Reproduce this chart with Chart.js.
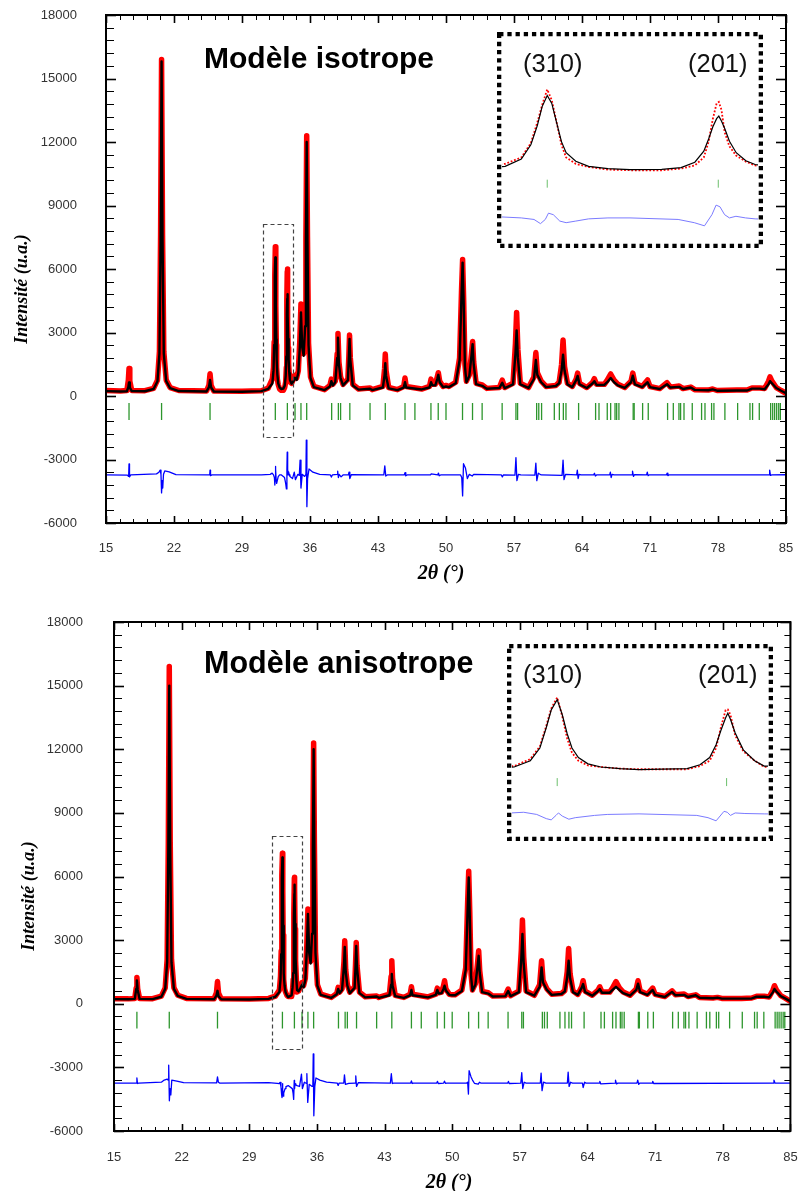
<!DOCTYPE html>
<html><head><meta charset="utf-8">
<script src="https://cdn.jsdelivr.net/npm/chart.js@4.4.1/dist/chart.umd.min.js"></script>
<style>
html,body{margin:0;padding:0;background:#fff;}
#wrap{position:relative;width:800px;height:1191px;overflow:hidden;background:#fff;}
canvas{position:absolute;display:block;}
</style></head><body>
<div id="wrap">
<canvas id="c1" width="800" height="595" style="left:0;top:0;width:800px;height:595px"></canvas>
<canvas id="c2" width="800" height="596" style="left:0;top:595px;width:800px;height:596px"></canvas>
<canvas id="i1" width="266" height="216" style="left:497px;top:32px;width:266px;height:216px"></canvas>
<canvas id="i2" width="266" height="197" style="left:507px;top:644px;width:266px;height:197px"></canvas>
</div>
<script>
// ---------- axis tick labels ----------
const xTickLabels = [15, 22, 29, 36, 43, 50, 57, 64, 71, 78, 85];
const yTickLabels = [-6000, -3000, 0, 3000, 6000, 9000, 12000, 15000, 18000];

// ---------- Bragg reflection positions (2theta) ----------
const braggPositions = [17.37, 20.72, 25.71, 32.43, 33.67, 34.46, 35.07, 35.66, 38.23, 38.92, 39.15, 40.10, 42.18, 43.75,
  45.78, 46.80, 48.45, 49.20, 50.00, 51.70, 52.73, 53.72, 55.78, 57.20, 57.37, 59.33, 59.55, 59.84, 61.15, 61.67, 62.08, 62.35,
  63.65, 65.40, 65.75, 66.60, 66.95, 67.40, 67.57, 67.80, 69.27, 69.37, 70.24, 70.82, 72.81, 73.40, 73.98, 74.15, 74.50,
  75.35, 76.31, 76.66, 77.34, 77.58, 78.71, 80.02, 81.29, 81.56, 82.25, 83.42, 83.63, 83.83, 84.04, 84.25, 84.42];

// ---------- Modèle isotrope : observed / calculated ----------
const isoTheta = [
  15.00,16.50,17.15,17.30,17.37,17.45,17.65,
  19.00,19.90,20.30,20.50,20.62,20.72,20.82,20.95,21.20,21.60,22.50,
  25.35,25.60,25.71,25.82,26.10,29.00,31.00,31.70,
  32.125,32.242,32.311,32.358,32.393,32.430,32.463,32.498,32.533,32.567,32.637,32.730,32.870,33.030,
  33.260,33.400,33.500,33.565,33.600,33.630,33.658,33.674,33.693,33.716,33.751,33.800,33.870,33.937,
  34.10,34.30,34.46,34.62,34.80,34.95,35.07,35.20,35.35,35.50,35.58,35.66,35.74,35.85,36.05,36.40,37.50,
  38.05,38.20,38.35,38.60,38.80,38.88,38.98,39.15,39.40,39.90,40.00,40.07,40.15,40.40,41.00,
  42.18,42.40,43.50,43.68,43.75,43.83,44.10,45.00,45.65,45.78,45.90,47.50,
  48.30,48.46,48.60,48.90,49.10,49.21,49.35,49.70,50.00,50.30,51.00,
  51.40,51.60,51.71,51.82,51.95,52.10,52.40,52.62,52.74,52.85,53.10,53.73,54.20,
  55.50,55.79,56.05,56.90,57.15,57.27,57.40,57.65,58.50,
  59.05,59.25,59.40,59.80,60.30,61.30,61.65,61.90,62.05,62.20,62.50,63.00,
  63.40,63.55,63.75,64.50,65.10,65.27,65.50,66.30,66.60,66.95,67.30,67.70,68.40,
  69.05,69.23,69.45,70.20,70.75,71.00,72.00,72.75,73.10,74.00,74.40,75.20,75.60,
  77.00,77.45,77.90,79.95,81.00,81.50,82.30,82.80,83.20,83.35,83.55,84.00,84.50,85.00];
const isoObs = [
  260,240,260,750,1300,700,260,
  250,360,750,2100,7600,15900,7600,2100,750,400,260,
  240,520,1050,500,240,220,250,370,
  810,1346,2546,4274,5746,7050,6146,4274,2410,1346,810,546,330,274,
  274,410,674,1346,2674,4546,5874,6000,5346,3474,2274,1500,1000,674,
  600,800,980,850,1200,2600,4350,2500,2000,3500,7500,12300,7500,2500,900,450,300,
  500,800,550,700,2000,2950,1600,900,550,800,1900,2880,1800,550,330,
  380,300,450,1300,1980,1200,400,300,450,850,450,330,
  450,800,550,550,900,1100,700,450,500,450,650,
  1800,5000,6450,4500,1500,700,1000,2000,2580,1600,600,520,360,
  400,750,400,600,2500,3950,2200,600,400,
  900,2050,1100,700,450,500,650,1500,2650,1400,600,450,
  800,1080,600,400,650,820,550,550,750,1040,750,550,400,
  700,1080,600,450,760,450,350,630,420,470,350,420,300,
  280,330,260,280,280,380,380,350,700,900,700,400,260,130];
const isoCalc = [
  230,215,225,420,640,400,230,
  225,330,700,2000,7300,15800,7400,2000,700,370,235,
  215,420,760,400,215,200,230,340,
  594,1210,2410,4010,5610,6546,5874,4274,2674,1746,1026,594,410,330,
  354,490,946,1874,2900,3900,4600,4810,4400,3800,2700,1746,1074,754,
  580,700,860,760,1100,2300,3950,2300,1900,3300,7200,12000,7300,2400,850,420,280,
  450,700,500,650,1800,2750,1500,850,500,750,1800,2700,1700,500,300,
  340,280,400,1000,1550,950,360,280,400,650,400,310,
  400,650,500,500,800,1000,650,420,450,420,600,
  1700,4800,6300,4400,1400,650,950,1900,2450,1500,560,480,340,
  380,620,370,550,2000,3100,1800,550,380,
  800,1700,1000,650,420,470,600,1200,1950,1200,550,420,
  750,950,550,380,600,700,520,520,650,850,650,500,380,
  650,960,550,420,650,420,330,560,400,430,330,400,290,
  270,310,250,260,260,350,350,320,550,700,600,380,250,130];
// difference curve (offset as drawn)
const isoDiffTheta = [
  15.00,17.20,17.33,17.37,17.42,17.55,20.20,20.45,20.58,20.66,20.72,20.78,20.84,20.92,21.05,21.50,22.20,25.55,25.68,25.71,25.76,25.90,31.00,31.90,
  32.102,32.242,32.334,32.381,32.416,32.439,32.474,32.521,32.567,32.637,32.730,32.870,33.030,33.379,33.496,33.570,33.624,33.654,33.682,33.716,33.751,33.798,33.868,33.937,
  34.20,34.38,34.50,34.75,34.90,34.98,35.07,35.20,35.45,35.58,35.62,35.68,35.75,35.90,36.30,37.00,
  38.10,38.20,38.30,38.80,38.85,38.92,39.00,39.20,39.40,39.95,40.02,40.10,40.25,
  43.60,43.70,43.80,43.95,45.70,45.78,45.86,46.00,48.40,48.48,49.15,49.22,49.30,49.45,
  51.50,51.62,51.71,51.80,52.00,52.20,52.40,52.70,52.85,55.70,55.80,55.90,
  57.10,57.20,57.30,57.45,57.70,59.15,59.25,59.35,59.50,59.80,61.95,62.05,62.15,62.30,
  63.45,63.52,63.60,63.70,63.90,65.20,65.28,65.38,65.50,66.85,66.92,67.00,67.10,67.30,
  69.15,69.20,69.30,69.40,70.65,70.72,70.80,70.90,72.70,72.76,72.84,72.95,83.25,83.32,83.40,83.55,85.00];
const isoDiff = [
  -3730,-3740,-3800,-3210,-3820,-3730,-3680,-3600,-3500,-3700,-4580,-4000,-4350,-3700,-3540,-3580,-3710,-3730,-3720,-3500,-3760,-3730,-3730,-3700,
  -3646,-3726,-3854,-4206,-3854,-3326,-3454,-3990,-4126,-3990,-3806,-3726,-3726,-3854,-4126,-4390,-3454,-2654,-2790,-3454,-3726,-3590,-3726,-3806,
  -3900,-3600,-3950,-3700,-3750,-3030,-4350,-3700,-3800,-3700,-2080,-5230,-3900,-3450,-3600,-3700,
  -3730,-3830,-3730,-3700,-3550,-3850,-3700,-3820,-3730,-3730,-3600,-3900,-3720,
  -3730,-3300,-3780,-3730,-3730,-3620,-3770,-3730,-3730,-3680,-3730,-3640,-3770,-3730,
  -3730,-3850,-4720,-3200,-3400,-3900,-3700,-3780,-3700,-3730,-3820,-3730,
  -3740,-2910,-4000,-3700,-3730,-3740,-3170,-4000,-3650,-3730,-3750,-3030,-3950,-3700,
  -3730,-3500,-3900,-3700,-3730,-3730,-3650,-3780,-3730,-3730,-3600,-3850,-3700,-3730,
  -3730,-3550,-3800,-3720,-3730,-3600,-3760,-3730,-3730,-3650,-3760,-3730,-3730,-3500,-3750,-3730,-3720];

// ---------- Modèle anisotrope : observed / calculated ----------
const anisoTheta = [
  15.00,16.50,17.15,17.30,17.37,17.45,17.65,
  19.00,19.90,20.30,20.50,20.62,20.72,20.82,20.95,21.20,21.60,22.50,
  25.35,25.60,25.71,25.82,26.10,29.00,31.00,31.70,
  32.115,32.233,32.303,32.350,32.386,32.430,32.467,32.503,32.538,32.585,32.655,32.749,32.890,
  33.027,33.381,33.475,33.546,33.593,33.628,33.663,33.679,33.698,33.733,33.792,33.875,33.945,
  34.10,34.30,34.46,34.62,34.80,34.95,35.07,35.20,35.35,35.50,35.58,35.66,35.74,35.85,36.05,36.40,37.50,
  38.05,38.20,38.35,38.60,38.80,38.88,38.98,39.15,39.40,39.90,40.00,40.07,40.15,40.40,41.00,
  42.18,42.40,43.50,43.68,43.75,43.83,44.10,45.00,45.65,45.78,45.90,47.50,
  48.30,48.46,48.60,48.90,49.10,49.21,49.35,49.70,50.00,50.30,51.00,
  51.40,51.60,51.71,51.82,51.95,52.10,52.40,52.62,52.74,52.85,53.10,53.73,54.20,
  55.50,55.79,56.05,56.90,57.15,57.27,57.40,57.65,58.50,
  59.05,59.25,59.40,59.80,60.30,61.30,61.65,61.90,62.05,62.20,62.50,63.00,
  63.40,63.55,63.75,64.50,65.10,65.27,65.50,66.30,66.60,66.95,67.30,67.70,68.40,
  69.05,69.23,69.45,70.20,70.75,71.00,72.00,72.75,73.10,74.00,74.40,75.20,75.60,
  77.00,77.45,77.90,79.95,81.00,81.50,82.30,82.80,83.20,83.35,83.55,84.00,84.50,85.00];
const anisoObs = [
  240,230,250,750,1240,700,250,
  240,360,750,2100,7600,15900,7600,2100,750,400,250,
  230,520,1050,500,230,220,250,360,
  643,1295,2483,4420,6055,7100,5313,3233,1893,1143,697,554,402,
  339,339,643,1143,2340,4269,5912,5965,5465,3527,2036,1143,554,
  600,800,1000,850,1200,2700,4470,2500,2000,3500,7500,12300,7500,2500,900,450,300,
  480,770,550,700,2000,2970,1600,900,550,800,1900,2890,1800,550,330,
  370,300,450,1300,2030,1200,400,300,450,800,450,320,
  450,740,520,550,850,1085,700,450,420,420,650,
  1700,4800,6250,4300,1400,650,950,1900,2500,1550,580,520,360,
  380,690,380,600,2500,3950,2200,600,400,
  900,2030,1100,700,450,480,620,1500,2610,1400,600,440,
  800,1085,600,400,650,800,550,550,750,1040,750,550,400,
  700,1085,600,450,740,450,340,610,420,460,340,420,290,
  270,300,250,250,270,350,350,320,650,850,650,380,250,110];
const anisoCalc = [
  220,210,230,700,1100,650,230,
  220,330,700,1950,7200,15000,7200,1950,700,370,230,
  210,380,610,350,210,200,230,330,
  554,1143,2340,4269,5912,6894,5465,3679,2340,1447,848,554,402,
  313,402,759,1447,2640,3990,5180,5608,5050,3760,2170,1143,643,
  580,750,900,780,1100,2500,4240,2400,1900,3300,7200,12000,7300,2400,850,420,280,
  450,700,500,650,1800,2680,1500,850,500,750,1800,2720,1700,500,300,
  340,280,400,900,1400,850,360,280,400,650,400,300,
  420,650,480,500,700,850,620,420,400,400,600,
  1600,4500,5950,4100,1300,610,900,1750,2260,1450,550,480,340,
  360,600,360,550,2100,3290,1900,550,380,
  800,1710,1000,650,420,460,580,1250,2030,1200,550,420,
  750,930,550,380,600,700,520,520,650,800,650,500,380,
  650,950,550,420,650,420,320,560,400,420,320,400,280,
  260,290,240,240,250,330,330,300,550,700,580,360,240,110];
const anisoDiffTheta = [
  15.00,17.30,17.37,17.43,17.55,19.90,20.20,20.50,20.60,20.66,20.73,20.80,20.88,20.98,21.50,22.20,25.62,25.71,25.80,25.95,31.00,31.90,
  32.092,32.185,32.280,32.350,32.386,32.421,32.439,32.467,32.515,32.562,32.703,32.796,33.029,33.452,33.534,33.593,33.651,33.675,33.698,33.733,33.804,33.945,
  34.20,34.40,34.50,34.70,34.88,34.96,35.05,35.20,35.50,35.58,35.62,35.68,35.78,35.90,36.30,37.00,
  38.10,38.20,38.30,38.78,38.85,38.95,39.30,39.95,40.02,40.10,40.28,
  43.60,43.70,43.80,43.95,45.70,45.78,45.86,46.00,48.40,48.48,48.56,49.12,49.20,49.30,49.45,
  51.50,51.60,51.68,51.75,51.95,52.10,52.30,52.70,52.82,52.95,55.75,55.82,55.90,
  57.10,57.20,57.30,57.45,57.65,59.12,59.20,59.30,59.45,59.70,61.92,62.00,62.10,62.25,62.45,
  63.48,63.55,63.70,63.85,65.20,65.28,65.38,66.85,66.90,67.00,67.15,
  69.12,69.20,69.30,69.40,70.68,70.75,70.85,83.22,83.30,83.40,85.00];
const anisoDiff = [
  -3740,-3740,-3500,-3760,-3740,-3700,-3600,-3550,-3600,-2890,-4575,-4000,-4300,-3600,-3650,-3720,-3730,-3450,-3700,-3740,-3720,-3750,
  -3769,-3706,-3911,-4304,-4420,-4001,-3769,-4063,-4358,-4215,-4001,-3911,-3858,-4001,-4215,-4510,-3617,-3706,-4001,-3769,-3822,-3858,
  -3900,-3320,-4000,-3700,-3750,-3290,-4650,-3800,-3900,-3750,-2370,-5280,-3900,-3500,-3600,-3700,
  -3740,-3850,-3740,-3740,-3350,-3800,-3750,-3740,-3400,-3900,-3720,
  -3740,-3300,-3760,-3740,-3740,-3640,-3760,-3740,-3740,-3660,-3760,-3740,-3650,-3750,-3740,
  -3740,-3700,-4260,-3160,-3450,-3600,-3750,-3790,-3700,-3740,-3740,-3660,-3760,
  -3740,-3250,-4000,-3700,-3740,-3740,-3270,-4100,-3700,-3740,-3740,-3220,-3900,-3700,-3740,
  -3740,-3950,-3700,-3740,-3740,-3660,-3780,-3740,-3600,-3780,-3740,
  -3740,-3600,-3800,-3740,-3740,-3660,-3760,-3740,-3600,-3740,-3740];

// ---------- helpers ----------
const pts = (xs, ys) => xs.map((x, i) => ({ x: x, y: ys[i] }));

function decorPlugin(o) {
  return {
    id: 'decor',
    afterDraw(chart) {
      const { ctx, chartArea: a, scales: { x, y } } = chart;
      ctx.save();
      ctx.strokeStyle = '#000';
      const line = (x1, y1, x2, y2) => { ctx.beginPath(); ctx.moveTo(x1, y1); ctx.lineTo(x2, y2); ctx.stroke(); };
      for (let k = 0; k <= 50; k++) {
        const px = Math.round(x.getPixelForValue(15 + k * 1.4)) + 0.5;
        const major = k % 5 === 0;
        ctx.lineWidth = major ? 1.6 : 1;
        line(px, a.bottom, px, a.bottom - (major ? 7 : 4));
        line(px, a.top, px, a.top + (major ? 8 : 5));
      }
      for (let k = 0; k <= 40; k++) {
        const py = Math.round(y.getPixelForValue(-6000 + k * 600)) + 0.5;
        const major = k % 5 === 0;
        ctx.lineWidth = major ? 1.6 : 1;
        line(a.left, py, a.left + (major ? 10 : 8), py);
        line(a.right, py, a.right - (major ? 10 : 6), py);
      }
      ctx.lineWidth = 2;
      ctx.strokeRect(a.left, a.top, a.right - a.left, a.bottom - a.top);
      const b = o.box;
      ctx.lineWidth = 1.2;
      ctx.strokeStyle = '#444';
      ctx.setLineDash([4, 3]);
      const bx1 = Math.round(x.getPixelForValue(b[0])) + 0.5, bx2 = Math.round(x.getPixelForValue(b[1])) + 0.5;
      const by1 = Math.round(y.getPixelForValue(b[3])) + 0.5, by2 = Math.round(y.getPixelForValue(b[2])) + 0.5;
      ctx.strokeRect(bx1, by1, bx2 - bx1, by2 - by1);
      ctx.setLineDash([]);
      ctx.fillStyle = '#000';
      ctx.font = 'bold ' + o.titleSize + 'px "Liberation Sans", Arial, sans-serif';
      ctx.textAlign = 'left';
      ctx.textBaseline = 'alphabetic';
      ctx.fillText(o.title, o.titlePos[0], o.titlePos[1]);
      ctx.font = 'italic bold 18px "Liberation Serif", "Times New Roman", serif';
      ctx.textAlign = 'center';
      ctx.textBaseline = 'middle';
      ctx.save();
      ctx.translate(o.yTitlePos[0], o.yTitlePos[1]);
      ctx.rotate(-Math.PI / 2);
      ctx.fillText('Intensité (u.a.)', 0, 0);
      ctx.restore();
      ctx.font = 'italic bold 20px "Liberation Serif", "Times New Roman", serif';
      ctx.fillText('2\u03B8 (°)', o.xTitlePos[0], o.xTitlePos[1]);
      ctx.restore();
    }
  };
}

function mainChart(id, d, o) {
  return new Chart(document.getElementById(id), {
    type: 'scatter',
    data: {
      datasets: [
        { data: pts(d.theta, d.calc), showLine: true, borderColor: '#000', borderWidth: 2.4, pointRadius: 0,
          borderJoinStyle: 'round', borderCapStyle: 'round', order: 0 },
        { data: pts(d.theta, d.obs), showLine: true, borderColor: '#ff0000', borderWidth: 5.5, pointRadius: 0,
          borderJoinStyle: 'round', borderCapStyle: 'round', order: 1 },
        { data: braggPositions.map(v => ({ x: v, y: o.tickY })), showLine: false, pointStyle: 'line', rotation: 90,
          pointRadius: o.tickR, borderColor: '#2d962d', pointBorderColor: '#2d962d', pointBorderWidth: 1.3, borderWidth: 1.3, order: 2 },
        { data: pts(d.diffTheta, d.diff), showLine: true, borderColor: '#0000ff', borderWidth: 1.3, pointRadius: 0,
          borderJoinStyle: 'round', order: 3 }
      ]
    },
    options: {
      responsive: false, animation: false, devicePixelRatio: 1, events: [],
      layout: { padding: o.padding },
      plugins: { legend: { display: false }, tooltip: { enabled: false } },
      scales: {
        x: {
          type: 'linear', min: 15, max: 85,
          afterBuildTicks: s => { s.ticks = xTickLabels.map(v => ({ value: v })); },
          afterFit: s => { s.height = o.xAxisH; s.paddingLeft = 0; s.paddingRight = 0; },
          grid: { display: false, drawTicks: false }, border: { display: false },
          ticks: { padding: o.xPad, color: '#333', maxRotation: 0, autoSkip: false,
            font: { family: '"Liberation Sans", Arial, sans-serif', size: 13 }, callback: v => String(v) }
        },
        y: {
          type: 'linear', min: -6000, max: 18000,
          afterBuildTicks: s => { s.ticks = yTickLabels.map(v => ({ value: v })); },
          afterFit: s => { s.width = o.yAxisW; s.paddingTop = 0; s.paddingBottom = 0; },
          grid: { display: false, drawTicks: false }, border: { display: false },
          ticks: { padding: o.yPad, color: '#333', autoSkip: false,
            font: { family: '"Liberation Sans", Arial, sans-serif', size: 13 }, callback: v => String(v) }
        }
      }
    },
    plugins: [decorPlugin(o)]
  });
}

function insetPlugin(o) {
  return {
    id: 'insetDecor',
    beforeDraw(chart) {
      const ctx = chart.ctx;
      ctx.save(); ctx.fillStyle = '#fff'; ctx.fillRect(0, 0, chart.width, chart.height); ctx.restore();
    },
    afterDraw(chart) {
      const ctx = chart.ctx, w = chart.width, h = chart.height;
      ctx.save();
      ctx.strokeStyle = '#000';
      ctx.lineWidth = 4.3;
      ctx.setLineDash([4.3, 3.9]);
      ctx.strokeRect(2.15, 2.15, w - 4.3, h - 4.3);
      ctx.setLineDash([]);
      ctx.fillStyle = '#111';
      ctx.font = '25.5px "Liberation Sans", Arial, sans-serif';
      ctx.textAlign = 'left';
      ctx.textBaseline = 'alphabetic';
      ctx.fillText('(310)', o.l1[0], o.l1[1]);
      ctx.fillText('(201)', o.l2[0], o.l2[1]);
      ctx.restore();
    }
  };
}

function insetChart(id, d, o) {
  return new Chart(document.getElementById(id), {
    type: 'scatter',
    data: {
      datasets: [
        { data: pts(d.theta, d.calc), showLine: true, borderColor: '#000', borderWidth: 1.2, pointRadius: 0, order: 0 },
        { data: pts(d.theta, d.obs), showLine: true, borderColor: '#ff0000', borderWidth: 1.8, borderDash: [1.8, 1.8], pointRadius: 0, order: 1 },
        { data: braggPositions.map(v => ({ x: v, y: o.tickY })), showLine: false, pointStyle: 'line', rotation: 90,
          pointRadius: 4, borderColor: '#6cbf6c', pointBorderColor: '#6cbf6c', pointBorderWidth: 1, order: 2 },
        { data: pts(d.diffTheta, d.diff), showLine: true, borderColor: '#7b7bff', borderWidth: 1, pointRadius: 0, order: 3 }
      ]
    },
    options: {
      responsive: false, animation: false, devicePixelRatio: 1, events: [],
      layout: { padding: 0 },
      plugins: { legend: { display: false }, tooltip: { enabled: false } },
      scales: {
        x: { type: 'linear', display: false, min: o.xr[0], max: o.xr[1] },
        y: { type: 'linear', display: false, min: o.yr[0], max: o.yr[1] }
      }
    },
    plugins: [insetPlugin(o)]
  });
}

const isoData = { theta: isoTheta, obs: isoObs, calc: isoCalc, diffTheta: isoDiffTheta, diff: isoDiff };
const anisoData = { theta: anisoTheta, obs: anisoObs, calc: anisoCalc, diffTheta: anisoDiffTheta, diff: anisoDiff };

mainChart('c1', isoData, {
  padding: { left: 0, top: 15, right: 14, bottom: 0 }, xAxisH: 72, yAxisW: 106, xPad: 18, yPad: 29,
  tickY: -732, tickR: 8.5, box: [31.2, 34.29, -1950, 8110],
  title: 'Modèle isotrope', titleSize: 30, titlePos: [204, 68], yTitlePos: [22, 289], xTitlePos: [441, 574]
});
mainChart('c2', anisoData, {
  padding: { left: 0, top: 27, right: 6, bottom: 0 }, xAxisH: 60, yAxisW: 114, xPad: 19, yPad: 31,
  tickY: -770, tickR: 8.3, box: [31.39, 34.41, -2137, 7925],
  title: 'Modèle anisotrope', titleSize: 30.5, titlePos: [204, 78], yTitlePos: [29, 301], xTitlePos: [449, 588]
});
insetChart('i1', isoData, { xr: [32.102, 33.958], yr: [-5830, 11450], tickY: -854, l1: [26, 40], l2: [191, 40] });
insetChart('i2', anisoData, { xr: [32.099, 33.973], yr: [-5938, 11653], tickY: -866, l1: [16, 39], l2: [191, 39] });
</script>
</body></html>
